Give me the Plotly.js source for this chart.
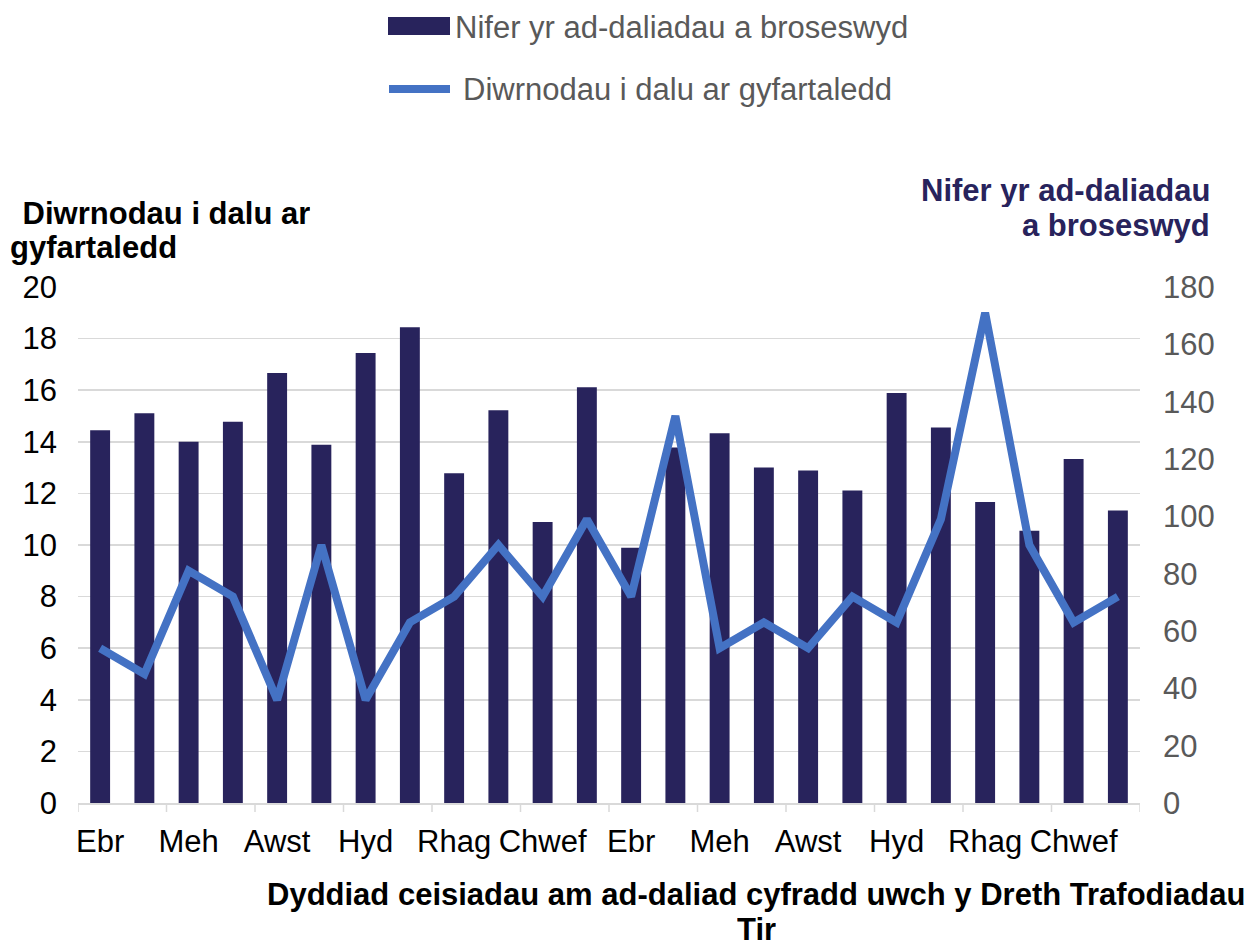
<!DOCTYPE html>
<html><head><meta charset="utf-8">
<script src="https://cdn.plot.ly/plotly-3.0.1.min.js"></script>
<style>body{margin:0;background:#fff}#chart{width:1252px;height:945px}</style>
</head><body><div id="chart"></div>
<script>
// ---- data ----
const months = ['Ebr','Mai','Meh','Gorff','Awst','Medi','Hyd','Tach','Rhag','Ion','Chwef','Maw',
                'Ebr','Mai','Meh','Gorff','Awst','Medi','Hyd','Tach','Rhag','Ion','Chwef','Maw'];
const refundsProcessed = [130,136,126,133,150,125,157,166,115,137,98,145,89,124,129,117,116,109,143,131,105,95,120,102];
const avgDaysToPay = [6,5,9,8,4,10,4,7,8,10,8,11,8,15,6,7,6,8,7,11,19,10,7,8];
const seriesNames = ['Nifer yr ad-daliadau a broseswyd','Diwrnodau i dalu ar gyfartaledd'];
const leftTitle = ['Diwrnodau i dalu ar','gyfartaledd'];
const rightTitle = ['Nifer yr ad-daliadau','a broseswyd'];
const xTitle = ['Dyddiad ceisiadau am ad-daliad cyfradd uwch y Dreth Trafodiadau','Tir'];

// ---- layout helpers ----
const W = 1252, H = 945, L = 78, R = 1140, T = 287, B = 803;
const px = x => (x - L) / (R - L);
const py = y => (B - y) / (B - T);
const pos = months.map((_, i) => i);
const labelIdx = pos.filter(i => i % 2 === 0);
// tick marks on the boundary before every second month (in axis units)
const boundaryTicks = labelIdx.map(i => i - 0.5).concat([months.length - 0.5]);

const NAVY = '#28235c', BLUE = '#4472c4', GRID = '#d9d9d9', GREY = '#595959';
const FONT = 'Liberation Sans, Arial, sans-serif';
const FS = 31;

const traces = [
  {type:'bar', x: pos, y: refundsProcessed, name: seriesNames[0], yaxis:'y',
   marker:{color: NAVY}, showlegend:false, hoverinfo:'y'},
  {type:'scatter', mode:'lines', x: pos, y: avgDaysToPay, name: seriesNames[1], yaxis:'y2',
   line:{color: BLUE, width: 8}, showlegend:false, hoverinfo:'y'}
];

function ann(text, x, y, xanchor, font, h) {
  const a = {text, xref:'paper', yref:'paper', x: px(x), y: py(y), xanchor, yanchor:'middle',
    showarrow:false, font: Object.assign({family:FONT, size:FS, color:'#000'}, font || {})};
  if (h) a.height = h;
  return a;
}

const tickShapes = boundaryTicks.map(v => ({type:'line', xref:'x', yref:'paper', x0: v, x1: v,
  y0: 0, y1: py(812), line:{color: GRID, width: 1.5}, layer:'above'}));

const layout = {
  width: W, height: H,
  margin: {l: L, r: W - R, t: T, b: H - B, pad: 0},
  paper_bgcolor:'#fff', plot_bgcolor:'#fff',
  bargap: 0.55,
  font: {family: FONT, size: FS, color:'#000'},
  xaxis: {
    range: [-0.5, months.length - 0.5], tickmode:'array', tickvals: labelIdx, ticktext: labelIdx.map(i => months[i]),
    ticks:'', showgrid:false, zeroline:false, showline:true, linecolor: GRID, linewidth: 1.5,
    tickfont:{size:FS, color:'#000'}, ticklabelstandoff: 10
  },
  yaxis: {
    side:'right', range:[0,180], dtick:20, showgrid:false,
    zeroline:false, ticks:'', tickfont:{size:FS, color:GREY}, ticklabelstandoff: 22
  },
  yaxis2: {
    overlaying:'y', side:'left', range:[0,20], dtick:2, showgrid:true, gridcolor:GRID, gridwidth:1.5,
    zeroline:false, ticks:'', tickfont:{size:FS, color:'#000'}, ticklabelstandoff: 20
  },
  shapes: [
    {type:'rect', xref:'paper', yref:'paper', x0: px(388), x1: px(450), y0: py(35), y1: py(17),
     fillcolor: NAVY, line:{width:0}},
    {type:'line', xref:'paper', yref:'paper', x0: px(389), x1: px(450), y0: py(89), y1: py(89),
     line:{color: BLUE, width: 8}}
  ].concat(tickShapes),
  annotations: [
    ann(seriesNames[0], 453, 27, 'left', {color:GREY}),
    ann(seriesNames[1], 461, 89, 'left', {color:GREY}),
    ann(' ' + leftTitle[0], 12, 213, 'left', {weight:'bold'}, 30),
    ann(leftTitle[1], 8, 247, 'left', {weight:'bold'}, 37),
    ann(rightTitle[0], 1212, 190, 'right', {color:NAVY, weight:'bold'}, 34),
    ann(rightTitle[1], 1212, 225, 'right', {color:NAVY, weight:'bold'}, 35),
    ann(xTitle[0], 756, 894, 'center', {weight:'bold'}, 37),
    ann(xTitle[1], 756, 929, 'center', {weight:'bold'}, 30)
  ]
};

Plotly.newPlot('chart', traces, layout, {staticPlot:true, displayModeBar:false});
</script>
</body></html>
